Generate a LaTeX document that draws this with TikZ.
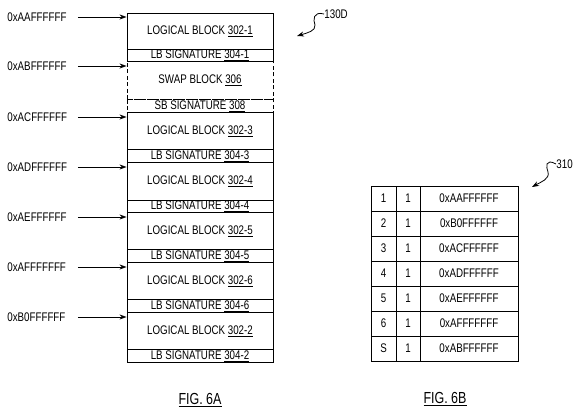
\documentclass[tikz,border=0pt]{standalone}
\usepackage{fontspec}
\setmainfont{Liberation Sans}[FakeStretch=0.78]
\usetikzlibrary{arrows.meta}
\newcommand{\ul}[1]{\underline{#1}}
\begin{document}
\begin{tikzpicture}[x=1pt,y=-1pt,
  line width=0.9pt,
  txt/.style={font=\fontsize{12.5}{13}\selectfont},
  blk/.style={draw, minimum width=146pt, anchor=north, inner sep=0pt, txt},
  dsh/.style={dash pattern=on 4pt off 2.5pt},
  lab/.style={anchor=west, inner sep=0pt, text width=70pt, align=left, txt},
  arr/.style={-{Stealth[length=7pt,width=5pt]}, line width=0.8pt},
  cell/.style={draw, inner sep=0pt, minimum height=25pt, txt},
  fig/.style={font=\fontsize{16}{17}\selectfont}]
\useasboundingbox (0,0) rectangle (576,411);
% memory map
\node[blk, dsh, minimum height=38pt] (swap) at (200,61) {SWAP BLOCK \ul{306}};
\node[blk, dsh, minimum height=13pt] (sbsig) at (200,99) {SB SIGNATURE \ul{308}};
\node[blk, minimum height=36pt] (lb1) at (200,13) {LOGICAL BLOCK \ul{302-1}};
\node[blk, minimum height=12pt] (sig1) at (200,49) {LB SIGNATURE \ul{304-1}};
\node[blk, minimum height=37pt] (lb3) at (200,112) {LOGICAL BLOCK \ul{302-3}};
\node[blk, minimum height=13pt] (sig3) at (200,149) {LB SIGNATURE \ul{304-3}};
\node[blk, minimum height=38pt] (lb4) at (200,162) {LOGICAL BLOCK \ul{302-4}};
\node[blk, minimum height=12pt] (sig4) at (200,200) {LB SIGNATURE \ul{304-4}};
\node[blk, minimum height=37pt] (lb5) at (200,212) {LOGICAL BLOCK \ul{302-5}};
\node[blk, minimum height=13pt] (sig5) at (200,249) {LB SIGNATURE \ul{304-5}};
\node[blk, minimum height=37pt] (lb6) at (200,262) {LOGICAL BLOCK \ul{302-6}};
\node[blk, minimum height=13pt] (sig6) at (200,299) {LB SIGNATURE \ul{304-6}};
\node[blk, minimum height=37pt] (lb2) at (200,312) {LOGICAL BLOCK \ul{302-2}};
\node[blk, minimum height=13pt] (sig2) at (200,349) {LB SIGNATURE \ul{304-2}};
% address labels and arrows
\node[lab] (a1) at (7,17) {0xAAFFFFFF};
\node[lab] (a2) at (7,66) {0xABFFFFFF};
\node[lab] (a3) at (7,117) {0xACFFFFFF};
\node[lab] (a4) at (7,167) {0xADFFFFFF};
\node[lab] (a5) at (7,217) {0xAEFFFFFF};
\node[lab] (a6) at (7,267) {0xAFFFFFFF};
\node[lab] (a7) at (7,317) {0xB0FFFFFF};
\draw[arr] (a1.east) -- (a1.east -| lb1.west);
\draw[arr] (a2.east) -- (a2.east -| swap.west);
\draw[arr] (a3.east) -- (a3.east -| lb3.west);
\draw[arr] (a4.east) -- (a4.east -| lb4.west);
\draw[arr] (a5.east) -- (a5.east -| lb5.west);
\draw[arr] (a6.east) -- (a6.east -| lb6.west);
\draw[arr] (a7.east) -- (a7.east -| lb2.west);
% reference 130D
\node[anchor=west, inner sep=0pt, txt] (r130) at (324,14) {130D};
\coordinate (r130t) at (297,36);
\draw[arr] (r130.west) .. controls (313,11) and (313,20) .. (315,25) .. controls (316,31) and (307,33) .. (r130t);
% table
\foreach \k/\n/\v [count=\i from 0] in {1/1/0xAAFFFFFF, 2/1/0xB0FFFFFF, 3/1/0xACFFFFFF, 4/1/0xADFFFFFF, 5/1/0xAEFFFFFF, 6/1/0xAFFFFFFF, S/1/0xABFFFFFF}{
  \node[cell, minimum width=25pt] (k\i) at (383.5,198.5+25*\i) {\k};
  \node[cell, minimum width=24pt] (n\i) at (408,198.5+25*\i) {\n};
  \node[cell, minimum width=98pt] (v\i) at (469,198.5+25*\i) {\v};
}
% reference 310
\node[anchor=west, inner sep=0pt, txt] (r310) at (556,164) {310};
\coordinate (r310t) at (532,187);
\draw[arr] (r310.west) .. controls (545,158) and (546,167) .. (548,172) .. controls (550,179) and (541,182) .. (r310t);
% captions
\node[fig] (f6a) at (200,400) {\ul{FIG. 6A}};
\node[fig] (f6b) at (445,399) {\ul{FIG. 6B}};
\end{tikzpicture}
\end{document}
